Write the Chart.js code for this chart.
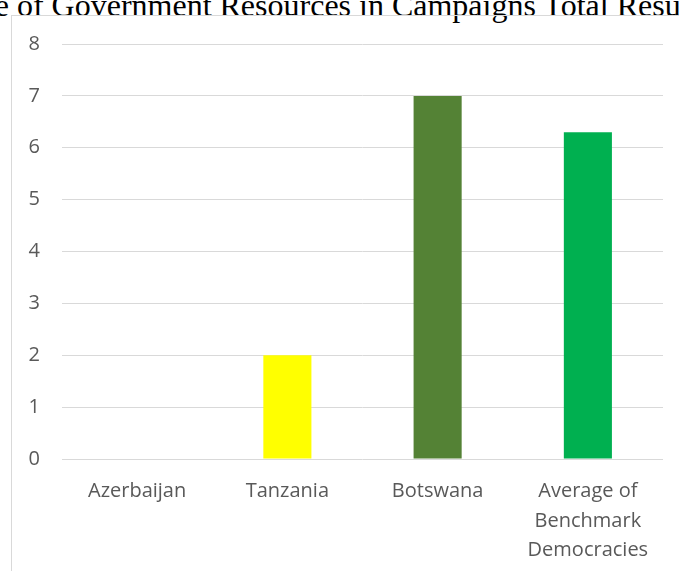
<!DOCTYPE html>
<html>
<head>
<meta charset="utf-8">
<script src="https://cdn.jsdelivr.net/npm/chart.js@4/dist/chart.umd.min.js"></script>
<style>
  html, body { margin: 0; padding: 0; background: #ffffff; overflow: hidden; }
  body { width: 679px; height: 571px; position: relative; }
  #title {
    position: absolute; left: -200px; top: -11px; width: 1070px;
    text-align: center; white-space: nowrap;
    font-family: 'Liberation Serif', 'Times New Roman', serif;
    font-size: 32px; line-height: 32px; color: #000000;
  }
  #frame {
    position: absolute; left: 11px; top: 15px; width: 700px; height: 600px;
    border-left: 1px solid #d9d9d9; border-top: 1px solid #d9d9d9;
  }
  #wrap { position: absolute; left: 12px; top: 16px; width: 667px; height: 555px; }
</style>
</head>
<body>
<div id="title">Use of Government Resources in Campaigns Total Results</div>
<div id="frame"></div>
<div id="wrap"><canvas id="chart" width="667" height="555"></canvas></div>
<script>
// Countries compared, with the benchmark average as the last column
const categories = ['Azerbaijan', 'Tanzania', 'Botswana', ['Average of', 'Benchmark', 'Democracies']];
// Total score for use of government resources in campaigns
const scores = [0, 2, 7, 6.3];
// Value axis ticks
const yTicks = [0, 1, 2, 3, 4, 5, 6, 7, 8];

const barColors = ['#4472C4', '#FFFF00', '#548235', '#00B050'];

new Chart(document.getElementById('chart'), {
  type: 'bar',
  data: {
    labels: categories,
    datasets: [{
      data: scores,
      backgroundColor: barColors,
      borderWidth: 0,
      categoryPercentage: 1,
      barPercentage: 0.32
    }]
  },
  options: {
    responsive: false,
    animation: false,
    layout: { padding: { left: 0, right: 16, top: 28, bottom: 0 } },
    plugins: { legend: { display: false }, tooltip: { enabled: false }, title: { display: false } },
    scales: {
      x: {
        grid: { display: false, drawTicks: false },
        border: { display: false },
        ticks: {
          color: '#595959',
          font: { family: "'Open Sans', sans-serif", size: 20, lineHeight: 1.47 },
          padding: 18, maxRotation: 0, autoSkip: false
        },
        afterFit(scale) { scale.height = 112; scale.paddingLeft = 0; scale.paddingRight = 0; }
      },
      y: {
        min: yTicks[0],
        max: yTicks[yTicks.length - 1],
        afterBuildTicks(scale) { scale.ticks = yTicks.map(v => ({ value: v })); },
        grid: { color: '#d9d9d9', lineWidth: 1, drawTicks: false },
        border: { display: false },
        ticks: { color: '#595959', font: { family: "'Open Sans', sans-serif", size: 20 }, padding: 22 },
        afterFit(scale) { scale.width = 50; scale.paddingTop = 0; scale.paddingBottom = 0; }
      }
    }
  }
});
</script>
</body>
</html>
